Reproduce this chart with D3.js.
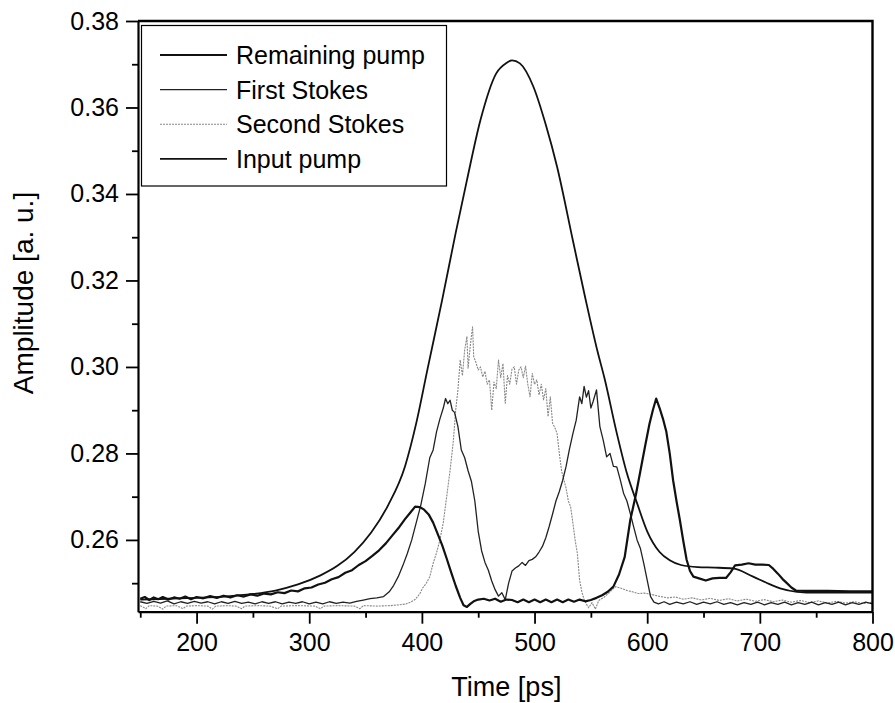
<!DOCTYPE html>
<html>
<head>
<meta charset="utf-8">
<script src="https://cdn.jsdelivr.net/npm/d3@7"></script>
<style>
  body { margin: 0; background: #fff; }
  svg { display: block; font-family: "Liberation Sans", Arial, sans-serif; }
  .axis text { font-size: 25px; fill: #000; }
  .axis path, .axis line { stroke: #000; }
  .axis-title { font-size: 27px; fill: #000; }
  .legend text { font-size: 25px; fill: #000; }
</style>
</head>
<body>
<svg id="chart" width="895" height="703"></svg>
<script>
// tick values
const xMajor = [200, 300, 400, 500, 600, 700, 800];
const xMinor = [150, 250, 350, 450, 550, 650, 750];
const yMajor = [0.26, 0.28, 0.30, 0.32, 0.34, 0.36, 0.38];
const yMinor = [0.25, 0.27, 0.29, 0.31, 0.33, 0.35, 0.37];

const seriesNames = ["Remaining pump", "First Stokes", "Second Stokes", "Input pump"];

// [time ps, amplitude a.u.]
const remainingPump = [
  [150,0.2464],[154,0.2468],[158,0.2461],[162,0.2467],[166,0.2463],[170,0.2468],[175,0.2462],[180,0.2467],
  [185,0.2464],[190,0.2469],[195,0.2463],[200,0.2468],[206,0.2465],[212,0.2470],[218,0.2466],[224,0.2471],
  [230,0.2467],[236,0.2472],[242,0.2469],[248,0.2474],[254,0.2471],[260,0.2476],[266,0.2474],[272,0.2479],
  [278,0.2477],[284,0.2483],[290,0.2481],[296,0.2488],[302,0.2490],[308,0.2497],[314,0.2501],[320,0.2509],
  [326,0.2514],[332,0.2524],[338,0.2530],[344,0.2542],[350,0.2551],[356,0.2563],[362,0.2576],[368,0.2592],
  [374,0.2611],[380,0.2630],[385,0.2648],[390,0.2664],[394,0.2677],[398,0.2676],[402,0.2670],[406,0.2659],
  [410,0.2640],[414,0.2614],[418,0.2588],[422,0.2557],[426,0.2525],[430,0.2494],[434,0.2466],[437,0.2449],
  [440,0.2445],[443,0.2452],[446,0.2458],[450,0.2462],[455,0.2464],[460,0.2460],[465,0.2464],[470,0.2457],
  [475,0.2462],[480,0.2461],[485,0.2456],[490,0.2462],[495,0.2456],[500,0.2462],[505,0.2456],[510,0.2462],
  [515,0.2456],[520,0.2462],[525,0.2456],[530,0.2462],[535,0.2457],[540,0.2462],[545,0.2458],[550,0.2461],
  [555,0.2466],[560,0.2472],[565,0.2480],[570,0.2492],[575,0.2520],[580,0.2560],[585,0.2646],[590,0.2705],
  [594,0.2760],[598,0.2815],[602,0.2868],[605,0.2900],[608,0.2927],[611,0.2905],[614,0.2880],[617,0.2850],
  [620,0.2800],[623,0.2738],[626,0.2690],[629,0.2646],[632,0.2598],[635,0.2554],[638,0.2528],[641,0.2515],
  [646,0.2511],[652,0.2506],[658,0.2511],[664,0.2512],[670,0.2512],[674,0.2525],[678,0.2541],[684,0.2543],
  [690,0.2546],[696,0.2543],[702,0.2543],[708,0.2542],[712,0.2533],[716,0.2522],[720,0.2510],[724,0.2500],
  [728,0.2490],[732,0.2483],[740,0.2482],[760,0.2482],[780,0.2481],[800,0.2481]
];

const firstStokes = [
  [150,0.2457],[156,0.2453],[162,0.2458],[168,0.2454],[174,0.2459],[180,0.2452],[186,0.2457],[192,0.2453],
  [198,0.2458],[204,0.2454],[210,0.2457],[216,0.2452],[222,0.2457],[228,0.2453],[234,0.2458],[240,0.2453],
  [246,0.2456],[252,0.2452],[258,0.2457],[264,0.2453],[270,0.2457],[276,0.2452],[282,0.2456],[288,0.2453],
  [294,0.2457],[300,0.2452],[306,0.2456],[312,0.2452],[318,0.2457],[324,0.2453],[330,0.2456],[336,0.2454],
  [342,0.2458],[348,0.2461],[354,0.2464],[360,0.2466],[366,0.2469],[371,0.2480],[375,0.2495],[379,0.2515],
  [383,0.2540],[387,0.2568],[391,0.2600],[395,0.2640],[399,0.2680],[403,0.2730],[407,0.2790],[410,0.2808],
  [413,0.2850],[416,0.2880],[419,0.2905],[421,0.2927],[423,0.2915],[425,0.2923],[427,0.2900],[429,0.2895],
  [432,0.2862],[435,0.2808],[438,0.2790],[441,0.2760],[444,0.2735],[447,0.2690],[450,0.2620],[453,0.2575],
  [456,0.2548],[459,0.2530],[462,0.2505],[465,0.2485],[468,0.2470],[471,0.2478],[474,0.2462],[477,0.2500],
  [480,0.2528],[483,0.2535],[486,0.2540],[489,0.2548],[492,0.2541],[495,0.2552],[498,0.2555],[501,0.2561],
  [504,0.2572],[507,0.2585],[510,0.2605],[513,0.2631],[516,0.2660],[519,0.2690],[522,0.2712],[525,0.2738],
  [528,0.2770],[531,0.2810],[534,0.2845],[537,0.2877],[540,0.2931],[542,0.2915],[544,0.2955],[546,0.2930],
  [548,0.2945],[550,0.2905],[552,0.2920],[555,0.2947],[558,0.2862],[561,0.2830],[564,0.2792],[567,0.2800],
  [570,0.2770],[573,0.2769],[576,0.2740],[579,0.2708],[582,0.2690],[585,0.2661],[588,0.2630],[591,0.2600],
  [594,0.2580],[597,0.2545],[600,0.2507],[603,0.2469],[606,0.2456],[610,0.2452],[615,0.2457],[620,0.2451],
  [626,0.2456],[632,0.2452],[638,0.2457],[644,0.2451],[650,0.2456],[656,0.2452],[662,0.2457],[668,0.2451],
  [674,0.2455],[680,0.2450],[686,0.2455],[692,0.2451],[698,0.2456],[704,0.2450],[710,0.2455],[716,0.2451],
  [722,0.2456],[728,0.2450],[734,0.2455],[740,0.2451],[746,0.2456],[752,0.2450],[758,0.2455],[764,0.2451],
  [770,0.2456],[776,0.2450],[782,0.2455],[788,0.2451],[794,0.2456],[800,0.2452]
];

const secondStokes = [
  [150,0.2448],[155,0.2441],[158,0.2448],[165,0.2447],[170,0.2440],[173,0.2447],[182,0.2448],[188,0.2441],
  [191,0.2447],[200,0.2448],[210,0.2447],[214,0.2440],[217,0.2447],[228,0.2448],[235,0.2447],[240,0.2441],
  [243,0.2447],[255,0.2448],[265,0.2447],[272,0.2441],[275,0.2447],[290,0.2448],[305,0.2447],[310,0.2441],
  [313,0.2447],[325,0.2448],[340,0.2447],[345,0.2441],[348,0.2448],[360,0.2447],[372,0.2448],[380,0.2450],
  [386,0.2452],[390,0.2456],[394,0.2462],[398,0.2475],[401,0.2490],[404,0.2500],[407,0.2515],[410,0.2546],
  [413,0.2570],[416,0.2600],[419,0.2640],[422,0.2700],[425,0.2760],[428,0.2831],[430,0.2900],[432,0.2947],
  [434,0.3016],[436,0.2980],[438,0.3040],[440,0.3070],[441,0.2997],[443,0.3050],[445,0.3093],[446,0.3024],
  [448,0.3010],[450,0.2993],[452,0.3000],[454,0.2977],[456,0.2990],[458,0.2960],[460,0.2970],[462,0.2900],
  [464,0.2965],[466,0.2950],[468,0.3016],[470,0.2975],[472,0.3008],[474,0.2916],[476,0.2980],[478,0.2960],
  [480,0.2995],[482,0.3000],[484,0.2960],[486,0.2993],[488,0.3000],[490,0.2975],[492,0.3002],[494,0.2960],
  [496,0.2931],[498,0.2985],[500,0.2960],[502,0.2970],[504,0.2935],[506,0.2960],[508,0.2924],[510,0.2950],
  [512,0.2885],[514,0.2931],[516,0.2870],[518,0.2860],[520,0.2846],[522,0.2800],[524,0.2760],[526,0.2739],
  [528,0.2720],[530,0.2690],[532,0.2677],[534,0.2640],[536,0.2600],[538,0.2569],[540,0.2507],[542,0.2480],
  [544,0.2462],[546,0.2452],[548,0.2443],[551,0.2455],[554,0.2440],[557,0.2460],[562,0.2468],[567,0.2480],
  [572,0.2492],[577,0.2488],[582,0.2483],[587,0.2480],[592,0.2476],[597,0.2477],[602,0.2475],[610,0.2470],
  [618,0.2466],[625,0.2468],[632,0.2463],[640,0.2466],[648,0.2461],[656,0.2465],[664,0.2460],[672,0.2464],
  [680,0.2459],[688,0.2463],[696,0.2458],[704,0.2462],[712,0.2457],[720,0.2461],[728,0.2456],[736,0.2460],
  [744,0.2455],[752,0.2459],[760,0.2454],[768,0.2458],[776,0.2454],[784,0.2457],[792,0.2453],[800,0.2456]
];

const inputPump = [
  [150,0.2462],[175,0.2464],[200,0.2466],[225,0.2469],[250,0.2475],[270,0.2483],[290,0.2497],[310,0.2518],
  [325,0.2540],[340,0.2572],[355,0.2617],[370,0.2680],[385,0.2770],[395,0.2870],[405,0.2995],[418,0.3155],
  [430,0.3310],[440,0.3432],[452,0.3571],[466,0.3679],[475,0.3703],[480,0.3709],[487,0.3702],[499,0.3648],
  [510,0.3560],[520,0.3463],[534,0.3293],[545,0.3160],[556,0.3035],[562,0.2975],[573,0.2847],[582,0.2754],
  [591,0.2685],[600,0.2620],[611,0.2572],[620,0.2553],[630,0.2542],[645,0.2537],[660,0.2536],[676,0.2534],
  [694,0.2515],[705,0.2502],[718,0.2488],[733,0.2480],[750,0.2478],[775,0.2478],[800,0.2478]
];

const svg = d3.select("#chart");
const margin = { top: 21, right: 22.5, bottom: 91.3, left: 138 };
const width = +svg.attr("width") - margin.left - margin.right;
const height = +svg.attr("height") - margin.top - margin.bottom;

const chart = svg.append("g")
    .attr("transform", `translate(${margin.left}, ${margin.top})`);

const x = d3.scaleLinear().domain([148, 800]).range([0, width]);
const y = d3.scaleLinear().domain([0.2434, 0.38]).range([height, 0]);

// --- CURVES ---
const line = d3.line().x(d => x(d[0])).y(d => y(d[1]));
const smoothLine = d3.line().x(d => x(d[0])).y(d => y(d[1])).curve(d3.curveMonotoneX);

const styles = [
    { data: remainingPump, stroke: "#111", width: 2.2, dash: null, gen: line },
    { data: firstStokes,   stroke: "#222", width: 1.3, dash: null, gen: line },
    { data: secondStokes,  stroke: "#888", width: 1.1, dash: "2,1", gen: line },
    { data: inputPump,     stroke: "#111", width: 1.8, dash: null, gen: smoothLine }
];

// draw in an order that keeps the thin grey trace visible
[2, 1, 0, 3].forEach(i => {
    chart.append("path")
        .datum(styles[i].data)
        .attr("fill", "none")
        .attr("stroke", styles[i].stroke)
        .attr("stroke-width", styles[i].width)
        .attr("stroke-dasharray", styles[i].dash)
        .attr("stroke-linejoin", "round")
        .attr("d", styles[i].gen);
});

// --- AXES ---
chart.append("g")
    .attr("class", "axis")
    .attr("transform", `translate(0, ${height})`)
    .call(d3.axisBottom(x).tickValues(xMajor).tickSize(12).tickSizeOuter(0).tickPadding(10).tickFormat(d3.format("d")));
chart.append("g")
    .attr("class", "axis")
    .attr("transform", `translate(0, ${height})`)
    .call(d3.axisBottom(x).tickValues(xMinor).tickSize(6).tickSizeOuter(0).tickFormat(""))
    .call(g => g.select(".domain").remove());

chart.append("g")
    .attr("class", "axis")
    .call(d3.axisLeft(y).tickValues(yMajor).tickSize(12).tickSizeOuter(0).tickPadding(7).tickFormat(d3.format(".2f")));
chart.append("g")
    .attr("class", "axis")
    .call(d3.axisLeft(y).tickValues(yMinor).tickSize(6).tickSizeOuter(0).tickFormat(""))
    .call(g => g.select(".domain").remove());

chart.selectAll(".axis .domain").attr("stroke-width", 2.2);
chart.selectAll(".axis .tick line").attr("stroke-width", 1.8);

// frame top and right
chart.append("path")
    .attr("fill", "none")
    .attr("stroke", "#000")
    .attr("stroke-width", 2.4)
    .attr("d", `M0,0H${width}V${height}`);

// --- AXIS TITLES ---
svg.append("text")
    .attr("class", "axis-title")
    .attr("x", margin.left + x(475))
    .attr("y", 696)
    .attr("text-anchor", "middle")
    .text("Time [ps]");

svg.append("text")
    .attr("class", "axis-title")
    .attr("transform", "translate(33, 293) rotate(-90)")
    .attr("text-anchor", "middle")
    .style("font-size", "28px")
    .text("Amplitude [a. u.]");

// --- LEGEND ---
const legend = svg.append("g").attr("class", "legend");
legend.append("rect")
    .attr("x", 141.5).attr("y", 25.5)
    .attr("width", 305).attr("height", 160.5)
    .attr("fill", "#fff")
    .attr("stroke", "#000")
    .attr("stroke-width", 1.2);

seriesNames.forEach((name, i) => {
    const cy = 55 + i * 34.6;
    legend.append("line")
        .attr("x1", 160).attr("x2", 227)
        .attr("y1", cy).attr("y2", cy)
        .attr("stroke", styles[i].stroke)
        .attr("stroke-width", i === 0 ? 1.8 : styles[i].width)
        .attr("stroke-dasharray", styles[i].dash);
    legend.append("text")
        .attr("x", 236)
        .attr("y", cy)
        .attr("dy", "0.36em")
        .text(name);
});
</script>
</body>
</html>
